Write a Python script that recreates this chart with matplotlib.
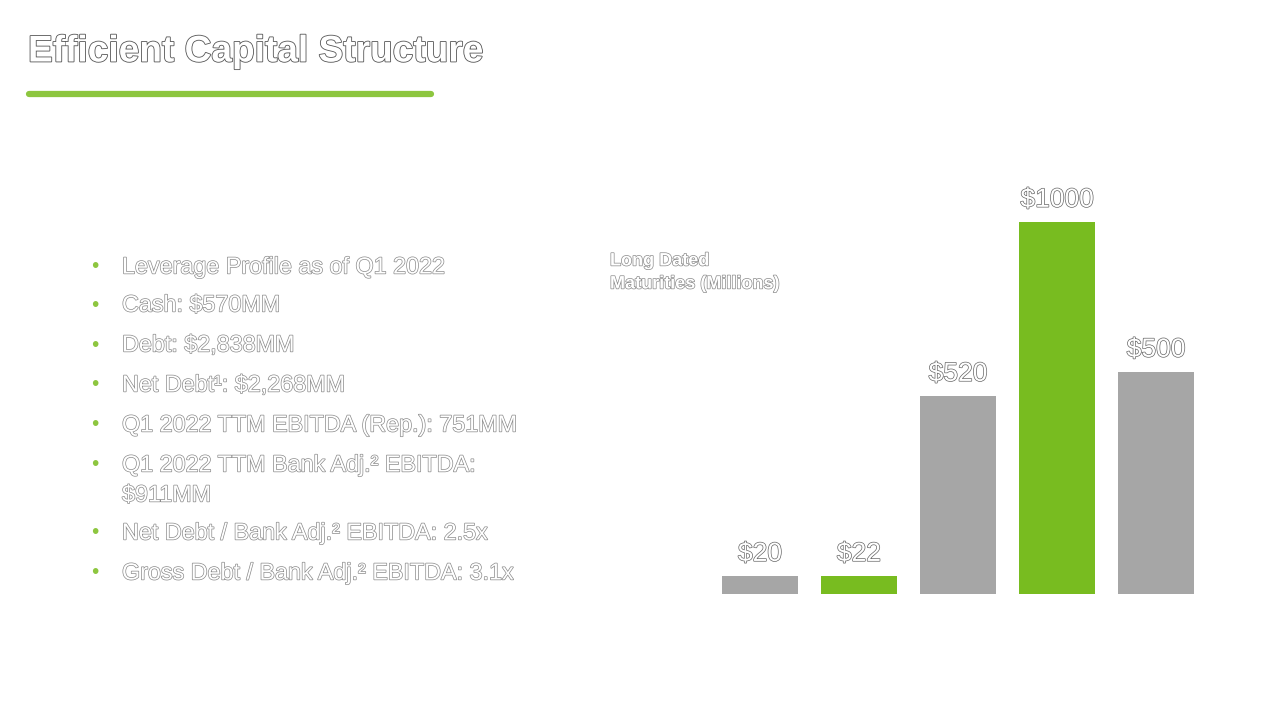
import matplotlib
matplotlib.use("Agg")
import matplotlib.pyplot as plt
import matplotlib.patheffects as pe
from matplotlib.lines import Line2D

plt.rcParams['font.family'] = ['Liberation Sans', 'DejaVu Sans']

# data
years = ["A", "B", "C", "D", "E"]
bar_heights = [48, 48, 532, 1000, 597]   # bar heights as drawn (pixel ratio)
bar_labels = ["$20", "$22", "$520", "$1000", "$500"]
bar_colors = ["#a6a6a6", "#78bc20", "#a6a6a6", "#78bc20", "#a6a6a6"]

bullets = [
    "Leverage Profile as of Q1 2022",
    "Cash: $570MM",
    "Debt: $2,838MM",
    "Net Debt¹: $2,268MM",
    "Q1 2022 TTM EBITDA (Rep.): 751MM",
    "Q1 2022 TTM Bank Adj.² EBITDA:\n$911MM",
    "Net Debt / Bank Adj.² EBITDA: 2.5x",
    "Gross Debt / Bank Adj.² EBITDA: 3.1x",
]
bullet_y = [267, 305, 345, 385, 425, 465, 533, 573]

W, H = 1280, 720
fig = plt.figure(figsize=(12.8, 7.2), dpi=100)
fig.patch.set_facecolor("white")

def outline(c="#777777", lw=1.0):
    return [pe.Stroke(linewidth=lw, foreground=c), pe.Normal()]

def fx(px):
    return px / W

def fy(py):
    return 1 - py / H

# title + underline
fig.text(fx(28), fy(52), "Efficient Capital Structure", fontsize=26.7, fontweight="bold",
         color="white", va="center", ha="left", path_effects=outline("#555555", 1.2))
fig.add_artist(Line2D([fx(29), fx(431)], [fy(94), fy(94)], color="#8dc63f", lw=4.5,
                      solid_capstyle="round", transform=fig.transFigure))

# bullets
for txt, y in zip(bullets, bullet_y):
    fig.text(fx(95), fy(y), "•", fontsize=15, color="#8dc63f", va="center", ha="center")
    fig.text(fx(122), fy(y), txt.split("\n")[0], fontsize=16.8, color="white",
             va="center", ha="left", path_effects=outline("#8a8a8a", 1.0))
    if "\n" in txt:
        fig.text(fx(122), fy(y + 30), txt.split("\n")[1], fontsize=16.8, color="white",
                 va="center", ha="left", path_effects=outline("#8a8a8a", 1.0))

# chart caption
fig.text(fx(610), fy(261), "Long Dated", fontsize=13, fontweight="bold", color="white",
         va="center", ha="left", path_effects=outline("#8a8a8a", 1.0))
fig.text(fx(610), fy(284), "Maturities (Millions)", fontsize=13, fontweight="bold", color="white",
         va="center", ha="left", path_effects=outline("#8a8a8a", 1.0))

# bar chart
ax = fig.add_axes([fx(710.5), fy(594), fx(495), (594 - 180) / H])
x = range(len(years))
bars = ax.bar(x, bar_heights, width=0.768, color=bar_colors)
ax.set_xlim(-0.5, 4.5)
ax.set_ylim(0, 1113)
ax.axis("off")

for b, lab in zip(bars, bar_labels):
    ax.annotate(lab, (b.get_x() + b.get_width() / 2, b.get_height()),
                xytext=(0, 16), textcoords="offset points", ha="center", va="center",
                fontsize=19, color="white", path_effects=outline("#666666", 1.0))

fig.savefig("out.png", dpi=100, facecolor="white")
